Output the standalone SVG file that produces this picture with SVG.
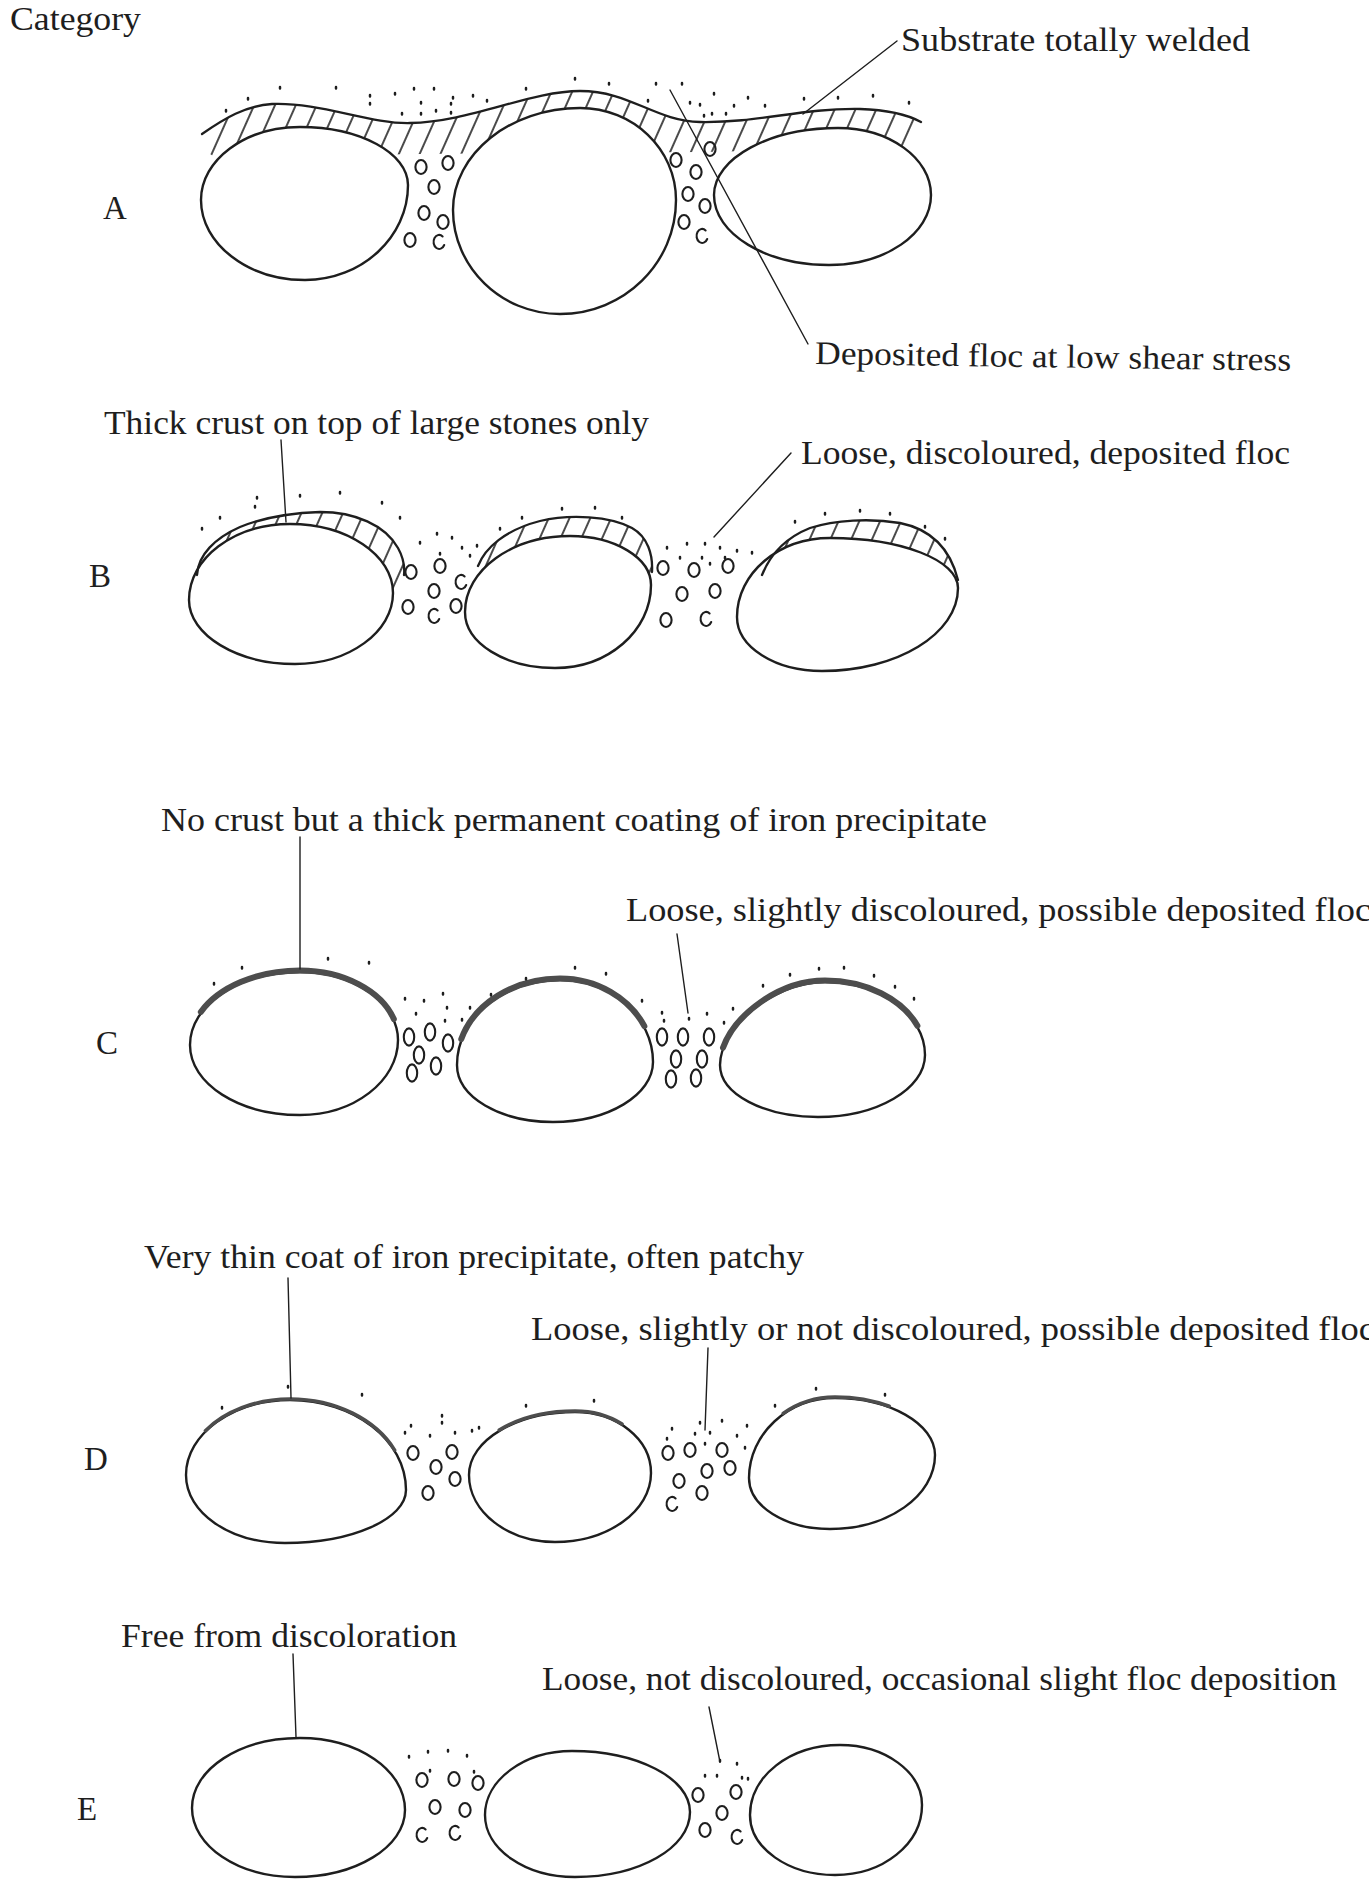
<svg xmlns="http://www.w3.org/2000/svg" width="1369" height="1880" viewBox="0 0 1369 1880">
<defs>
  <!-- diagonal hatching used for the welded crust -->
  <pattern id="hatch" patternUnits="userSpaceOnUse" width="19" height="19" patternTransform="rotate(24)">
    <line x1="9" y1="-1" x2="9" y2="20" stroke="#2a2a2a" stroke-width="1.7"/>
  </pattern>
  <!-- gravel grains -->
  <ellipse id="pb" rx="5.6" ry="7"/>
  <ellipse id="pt" rx="5.2" ry="8.6"/>
  <path id="pc" d="M3.6,-5.6 A5.6,7 0 1 0 5.2,3"/>
</defs>
<style>
  text { font-family: "Liberation Serif", "Times New Roman", serif; font-size: 33px; fill: #1e1e1e; }
  .stone { fill: #ffffff; stroke: #1e1e1e; stroke-width: 2.4; stroke-linejoin: round; }
  .line { fill: none; stroke: #1e1e1e; stroke-width: 2.3; stroke-linecap: round; stroke-linejoin: round; }
  .hatch { fill: url(#hatch); stroke: none; }
  .peb { fill: none; stroke: #1e1e1e; stroke-width: 2.1; stroke-linecap: round; }
  .dots { fill: none; stroke: #1e1e1e; stroke-width: 2.5; stroke-linecap: round; }
  .coat { fill: none; stroke: #4d4d4d; stroke-linecap: round; }
  .thick { stroke-width: 6; }
  .thin { stroke-width: 3.5; }
  .lead { fill: none; stroke: #1e1e1e; stroke-width: 1.4; stroke-linecap: round; }
</style>

<rect width="1369" height="1880" fill="#ffffff"/>

<text x="10" y="30" textLength="131" lengthAdjust="spacingAndGlyphs">Category</text>

<!-- Category A: substrate totally welded -->
<g id="row-a">
  <path class="hatch" d="M202,134 C225,118 245,106 272,104 C320,102 370,124 410,123 C470,122 530,91 580,91 C630,91 655,121 700,122 C760,123 800,108 860,109 C890,110 910,116 921,122 L914,148 L700,152 L420,154 L215,157 L203,150 Z"/>
  <path id="a1" class="stone" d="M300,127 C360,127 408,153 408,185 C408,237 362,280 305,280 C248,280 201,244 201,200 C201,160 245,127 300,127Z"/>
  <path id="a2" class="stone" d="M580,108 C633,108 676,149 676,200 C676,263 624,314 560,314 C501,314 453,267 453,210 C453,154 510,108 580,108Z"/>
  <path id="a3" class="stone" d="M838,128 C889,128 931,158 931,195 C931,234 885,265 829,265 C766,265 714,234 714,195 C714,158 770,128 838,128Z"/>
  <path class="line" d="M202,134 C225,118 245,106 272,104 C320,102 370,124 410,123 C470,122 530,91 580,91 C630,91 655,121 700,122 C760,123 800,108 860,109 C890,110 910,116 921,122"/>
  <g class="peb">
    <use href="#pb" x="421" y="167"/><use href="#pb" x="448" y="163"/><use href="#pb" x="434" y="187"/>
    <use href="#pb" x="424" y="213"/><use href="#pb" x="443" y="222"/><use href="#pb" x="410" y="240"/>
    <use href="#pc" x="439" y="242"/>
    <use href="#pb" x="710" y="149"/><use href="#pb" x="676" y="160"/><use href="#pb" x="696" y="172"/>
    <use href="#pb" x="688" y="194"/><use href="#pb" x="705" y="206"/><use href="#pb" x="684" y="222"/>
    <use href="#pc" x="702" y="236"/>
  </g>
  <path class="dots" d="M226,110v1.5 M248,98v1.5 M280,87v1.5 M336,87v1.5 M370,95v1.5 M395,93v1.5 M414,88v1.5 M434,88v1.5 M453,97v1.5 M473,95v1.5 M487,100v1.5 M370,103v1.5 M402,113v1.5 M421,102v1.5 M436,110v1.5 M451,103v1.5 M421,113v1.5 M451,112v1.5 M526,88v1.5 M575,78v1.5 M609,83v1.5 M656,83v1.5 M682,83v1.5 M648,100v1.5 M690,102v1.5 M714,93v1.5 M734,105v1.5 M748,97v1.5 M765,105v1.5 M804,98v1.5 M838,97v1.5 M873,95v1.5 M909,102v1.5 M700,104v1.5 M712,113v1.5 M726,113v1.5 M704,115v1.5"/>
  <text x="103" y="219">A</text>
  <text x="901" y="51" textLength="349" lengthAdjust="spacingAndGlyphs">Substrate totally welded</text>
  <text x="815" y="364" textLength="476" lengthAdjust="spacingAndGlyphs" transform="rotate(0.8 815 364)">Deposited floc at low shear stress</text>
</g>

<!-- Category B: crust on top of large stones -->
<g id="row-b">
  <path class="hatch" d="M197,575 C198,555 215,538 240,527 C262,518 290,513 320,512 C355,512 385,525 398,548 C403,557 405,566 404,575 L388,600 L205,600 Z"/>
  <path class="hatch" d="M478,566 C485,548 505,530 540,521 C570,514 610,516 632,528 C648,537 653,555 652,572 L640,600 L485,600 Z"/>
  <path class="hatch" d="M762,575 C770,555 785,538 810,528 C835,520 870,518 900,523 C930,529 950,548 958,580 L945,610 L760,610 Z"/>
  <path id="b1" class="stone" d="M290,524 C347,524 393,555 393,593 C393,632 349,664 295,664 C237,664 189,635 189,600 C189,558 234,524 290,524Z"/>
  <path id="b2" class="stone" d="M570,536 C615,536 651,558 651,585 C651,631 608,668 555,668 C505,668 465,643 465,612 C465,570 512,536 570,536Z"/>
  <path id="b3" class="stone" d="M830,538 C901,538 958,560 958,588 C958,634 897,671 822,671 C775,671 737,647 737,617 C737,573 779,538 830,538Z"/>
  <path class="line" d="M197,575 C198,555 215,538 240,527 C262,518 290,513 320,512 C355,512 385,525 398,548 C403,557 405,566 404,575"/>
  <path class="line" d="M478,566 C485,548 505,530 540,521 C570,514 610,516 632,528 C648,537 653,555 652,572"/>
  <path class="line" d="M762,575 C770,555 785,538 810,528 C835,520 870,518 900,523 C930,529 950,548 958,580"/>
  <g class="peb">
    <use href="#pb" x="411" y="572"/><use href="#pb" x="440" y="566"/><use href="#pc" x="461" y="582"/>
    <use href="#pb" x="434" y="591"/><use href="#pb" x="408" y="607"/><use href="#pc" x="434" y="616"/>
    <use href="#pb" x="456" y="606"/>
    <use href="#pb" x="663" y="568"/><use href="#pb" x="694" y="570"/><use href="#pb" x="728" y="566"/>
    <use href="#pb" x="682" y="594"/><use href="#pb" x="715" y="591"/><use href="#pb" x="666" y="620"/>
    <use href="#pc" x="706" y="619"/>
  </g>
  <path class="dots" d="M257,497v1.5 M300,495v1.5 M340,492v1.5 M382,502v1.5 M220,517v1.5 M202,528v1.5 M255,506v1.5 M400,517v1.5 M522,517v1.5 M562,508v1.5 M595,507v1.5 M622,517v1.5 M500,528v1.5 M795,521v1.5 M825,513v1.5 M860,510v1.5 M890,513v1.5 M925,526v1.5 M945,538v1.5 M420,542v1.5 M437,533v1.5 M452,537v1.5 M462,547v1.5 M477,545v1.5 M440,553v1.5 M470,555v1.5 M667,547v1.5 M687,543v1.5 M705,543v1.5 M720,547v1.5 M737,550v1.5 M752,552v1.5 M680,557v1.5 M702,557v1.5 M725,557v1.5 M710,563v1.5"/>
  <text x="89" y="587">B</text>
  <text x="104" y="434" textLength="545" lengthAdjust="spacingAndGlyphs">Thick crust on top of large stones only</text>
  <text x="801" y="464" textLength="489" lengthAdjust="spacingAndGlyphs">Loose, discoloured, deposited floc</text>
</g>

<!-- Category C: thick permanent iron coating -->
<g id="row-c">
  <path id="c1" class="stone" d="M300,972 C354,972 398,1003 398,1040 C398,1081 354,1115 300,1115 C239,1115 190,1084 190,1045 C190,1005 239,972 300,972Z"/>
  <path id="c2" class="stone" d="M560,980 C611,980 653,1017 653,1062 C653,1095 608,1122 553,1122 C500,1122 457,1097 457,1065 C457,1018 503,980 560,980Z"/>
  <path id="c3" class="stone" d="M825,982 C880,982 925,1015 925,1055 C925,1089 877,1117 818,1117 C764,1117 720,1094 720,1065 C720,1030 770,982 825,982Z"/>
  <g class="coat thick" transform="translate(0,-1.5)">
    <path pathLength="100" stroke-dasharray="20 60 20 0" d="M300,972 C354,972 398,1003 398,1040 C398,1081 354,1115 300,1115 C239,1115 190,1084 190,1045 C190,1005 239,972 300,972Z"/>
    <path pathLength="100" stroke-dasharray="19 58 23 0" d="M560,980 C611,980 653,1017 653,1062 C653,1095 608,1122 553,1122 C500,1122 457,1097 457,1065 C457,1018 503,980 560,980Z"/>
    <path pathLength="100" stroke-dasharray="20 56 24 0" d="M825,982 C880,982 925,1015 925,1055 C925,1089 877,1117 818,1117 C764,1117 720,1094 720,1065 C720,1030 770,982 825,982Z"/>
  </g>
  <g class="peb">
    <use href="#pt" x="409" y="1037"/><use href="#pt" x="430" y="1032"/><use href="#pt" x="448" y="1043"/>
    <use href="#pt" x="419" y="1055"/><use href="#pt" x="412" y="1073"/><use href="#pt" x="436" y="1066"/>
    <use href="#pt" x="662" y="1037"/><use href="#pt" x="683" y="1037"/><use href="#pt" x="709" y="1037"/>
    <use href="#pt" x="676" y="1059"/><use href="#pt" x="702" y="1059"/><use href="#pt" x="671" y="1079"/>
    <use href="#pt" x="696" y="1078"/>
  </g>
  <path class="dots" d="M214,983v1.5 M242,967v1.5 M328,958v1.5 M369,962v1.5 M526,978v1.5 M575,967v1.5 M606,973v1.5 M642,1000v1.5 M405,998v1.5 M424,1000v1.5 M443,993v1.5 M416,1013v1.5 M447,1007v1.5 M470,1007v1.5 M491,994v1.5 M445,1020v1.5 M462,1019v1.5 M662,1012v1.5 M689,1018v1.5 M707,1013v1.5 M724,1022v1.5 M733,1008v1.5 M664,1020v1.5 M763,985v1.5 M790,974v1.5 M819,968v1.5 M844,967v1.5 M874,975v1.5 M895,986v1.5 M914,998v1.5"/>
  <text x="96" y="1054">C</text>
  <text x="161" y="831" textLength="826" lengthAdjust="spacingAndGlyphs">No crust but a thick permanent coating of iron precipitate</text>
  <text x="626" y="921" textLength="745" lengthAdjust="spacingAndGlyphs">Loose, slightly discoloured, possible deposited floc</text>
</g>

<!-- Category D: very thin patchy coating -->
<g id="row-d">
  <path id="d1" class="stone" d="M290,1400 C354,1400 406,1440 406,1490 C406,1519 352,1543 285,1543 C230,1543 186,1513 186,1475 C186,1434 233,1400 290,1400Z"/>
  <path id="d2" class="stone" d="M575,1412 C617,1412 651,1439 651,1473 C651,1511 608,1542 555,1542 C508,1542 469,1512 469,1475 C469,1440 517,1412 575,1412Z"/>
  <path id="d3" class="stone" d="M835,1398 C890,1398 935,1424 935,1455 C935,1496 888,1529 830,1529 C785,1529 749,1506 749,1478 C749,1434 788,1398 835,1398Z"/>
  <g class="coat thin" transform="translate(0,-1)">
    <path pathLength="100" stroke-dasharray="21 63 16 0" d="M290,1400 C354,1400 406,1440 406,1490 C406,1519 352,1543 285,1543 C230,1543 186,1513 186,1475 C186,1434 233,1400 290,1400Z"/>
    <path pathLength="100" stroke-dasharray="10 74 16 0" d="M575,1412 C617,1412 651,1439 651,1473 C651,1511 608,1542 555,1542 C508,1542 469,1512 469,1475 C469,1440 517,1412 575,1412Z"/>
    <path pathLength="100" stroke-dasharray="11 78 11 0" d="M835,1398 C890,1398 935,1424 935,1455 C935,1496 888,1529 830,1529 C785,1529 749,1506 749,1478 C749,1434 788,1398 835,1398Z"/>
  </g>
  <g class="peb">
    <use href="#pb" x="413" y="1453"/><use href="#pb" x="452" y="1452"/><use href="#pb" x="436" y="1467"/>
    <use href="#pb" x="455" y="1479"/><use href="#pb" x="428" y="1493"/>
    <use href="#pb" x="668" y="1453"/><use href="#pb" x="690" y="1450"/><use href="#pb" x="722" y="1450"/>
    <use href="#pb" x="679" y="1481"/><use href="#pb" x="707" y="1471"/><use href="#pb" x="730" y="1468"/>
    <use href="#pb" x="702" y="1493"/><use href="#pc" x="672" y="1504"/>
  </g>
  <path class="dots" d="M222,1407v1.5 M288,1386v1.5 M362,1394v1.5 M405,1432v1.5 M411,1425v1.5 M442,1415v1.5 M442,1422v1.5 M430,1435v1.5 M455,1432v1.5 M472,1430v1.5 M479,1427v1.5 M526,1405v1.5 M594,1400v1.5 M672,1428v1.5 M700,1422v1.5 M722,1420v1.5 M747,1425v1.5 M667,1438v1.5 M695,1433v1.5 M710,1432v1.5 M737,1435v1.5 M745,1447v1.5 M705,1443v1.5 M775,1405v1.5 M816,1388v1.5 M885,1394v1.5"/>
  <text x="84" y="1470">D</text>
  <text x="144" y="1268" textLength="660" lengthAdjust="spacingAndGlyphs">Very thin coat of iron precipitate, often patchy</text>
  <text x="531" y="1340" textLength="844" lengthAdjust="spacingAndGlyphs">Loose, slightly or not discoloured, possible deposited floc</text>
</g>

<!-- Category E: clean substrate -->
<g id="row-e">
  <path id="e1" class="stone" d="M300,1738 C358,1738 405,1770 405,1810 C405,1847 356,1877 295,1877 C238,1877 192,1846 192,1808 C192,1769 240,1738 300,1738Z"/>
  <path id="e2" class="stone" d="M572,1751 C637,1751 690,1778 690,1812 C690,1848 639,1877 575,1877 C525,1877 485,1849 485,1815 C485,1780 524,1751 572,1751Z"/>
  <path id="e3" class="stone" d="M840,1745 C885,1745 922,1772 922,1805 C922,1844 883,1875 835,1875 C788,1875 750,1848 750,1815 C750,1776 790,1745 840,1745Z"/>
  <g class="peb">
    <use href="#pb" x="422" y="1780"/><use href="#pb" x="454" y="1779"/><use href="#pb" x="478" y="1783"/>
    <use href="#pb" x="435" y="1807"/><use href="#pb" x="465" y="1810"/><use href="#pc" x="422" y="1835"/>
    <use href="#pc" x="455" y="1833"/>
    <use href="#pb" x="698" y="1795"/><use href="#pb" x="736" y="1792"/><use href="#pb" x="722" y="1813"/>
    <use href="#pb" x="705" y="1830"/><use href="#pc" x="737" y="1837"/>
  </g>
  <path class="dots" d="M409,1756v1.5 M428,1751v1.5 M448,1750v1.5 M467,1755v1.5 M430,1770v1.5 M474,1771v1.5 M720,1760v1.5 M737,1763v1.5 M705,1775v1.5 M717,1775v1.5 M742,1777v1.5 M748,1778v1.5"/>
  <text x="77" y="1820">E</text>
  <text x="121" y="1647" textLength="336" lengthAdjust="spacingAndGlyphs">Free from discoloration</text>
  <text x="542" y="1690" textLength="795" lengthAdjust="spacingAndGlyphs">Loose, not discoloured, occasional slight floc deposition</text>
</g>

<!-- leader lines from labels to features -->
<g id="leaders" class="lead">
  <line x1="897" y1="41" x2="803" y2="114"/>
  <line x1="670" y1="90" x2="808" y2="344"/>
  <line x1="281" y1="440" x2="286" y2="522"/>
  <line x1="791" y1="453" x2="714" y2="537"/>
  <line x1="300" y1="837" x2="300" y2="969"/>
  <line x1="677" y1="934" x2="688" y2="1013"/>
  <line x1="288" y1="1278" x2="291" y2="1398"/>
  <line x1="708" y1="1348" x2="705" y2="1430"/>
  <line x1="293" y1="1654" x2="296" y2="1737"/>
  <line x1="709" y1="1707" x2="720" y2="1762"/>
</g>
</svg>
